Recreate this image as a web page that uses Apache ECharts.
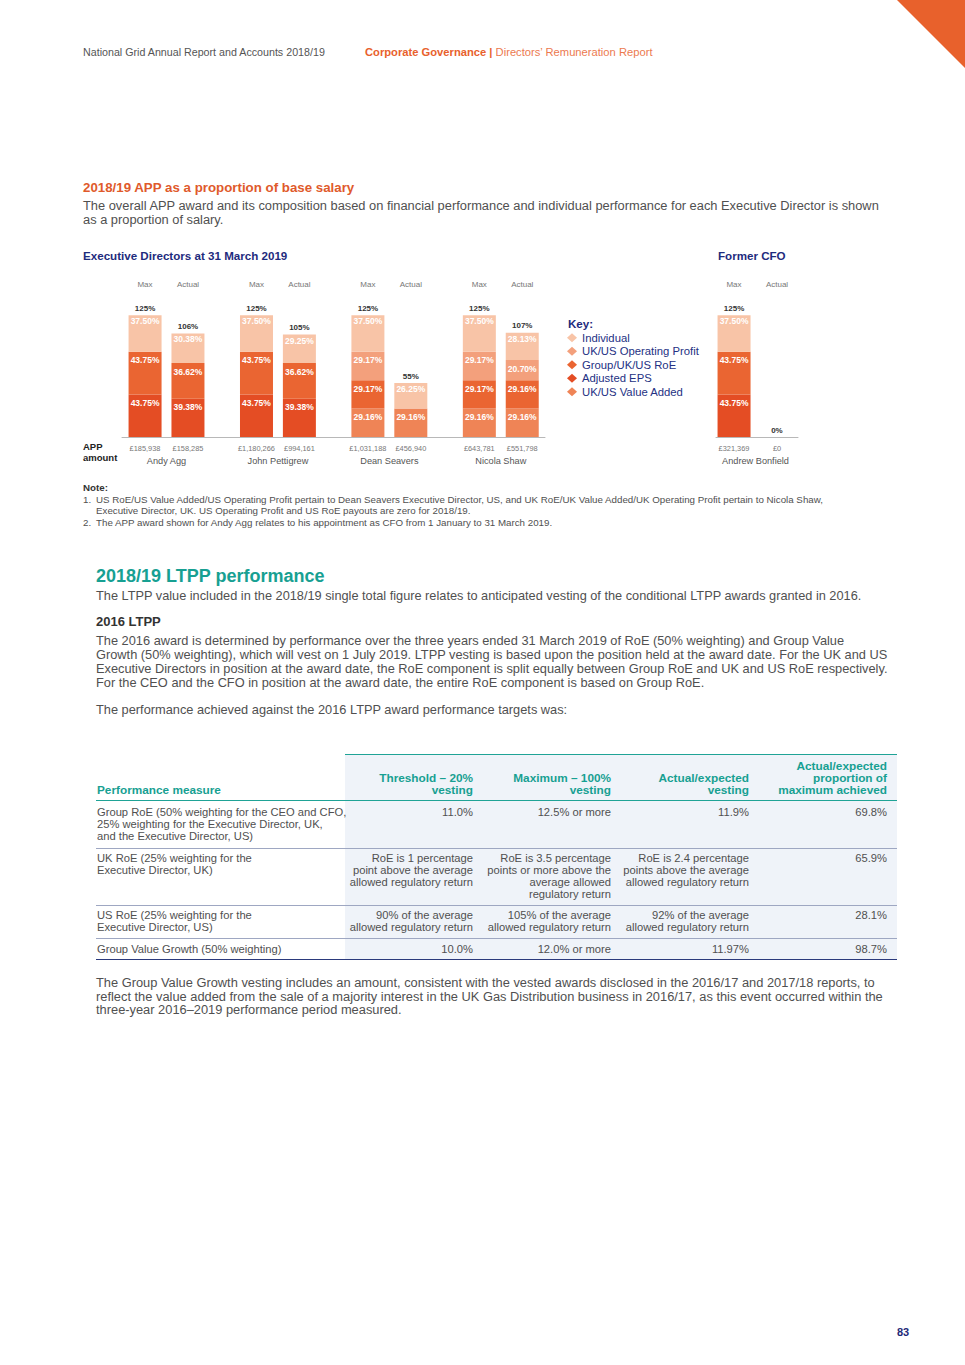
<!DOCTYPE html>
<html>
<head>
<meta charset="utf-8">
<script src="https://cdn.jsdelivr.net/npm/echarts/dist/echarts.min.js"></script>
<style>
  html, body { margin: 0; padding: 0; background: #fff; }
  #page { position: relative; width: 965px; height: 1365px; overflow: hidden; background: #fff; }
  .t { position: absolute; white-space: nowrap; font-family: 'Liberation Sans', Arial, Helvetica, sans-serif; color: #505050; }
  .r { text-align: right; }
  .hl { position: absolute; height: 0; }
  #chart { position: absolute; left: 0; top: 230px; width: 965px; height: 245px; }
</style>
</head>
<body>
<div id="page">
  <svg style="position:absolute;left:0;top:0" width="965" height="80">
    <polygon points="897,0 965,0 965,68" fill="#e8612c"/>
  </svg>

  <div class="t" style="left:83px;top:45px;font-size:10.7px;line-height:14px;color:#555;">National Grid Annual Report and Accounts 2018/19</div>
  <div class="t" style="left:365px;top:45px;font-size:11.2px;line-height:14px;color:#e8612c;"><b>Corporate Governance |</b> <span style="color:#ec7a4f">Directors’ Remuneration Report</span></div>

  <div class="t" style="left:83px;top:179.5px;font-size:13.3px;line-height:15px;font-weight:bold;color:#e05a2b;">2018/19 APP as a proportion of base salary</div>
  <div class="t" style="left:83px;top:199px;font-size:12.85px;line-height:13.5px;">The overall APP award and its composition based on financial performance and individual performance for each Executive Director is shown<br>as a proportion of salary.</div>

  <div id="chart"></div>

  <div class="t" style="left:83px;top:482px;font-size:9.75px;line-height:11.5px;font-weight:bold;color:#333;">Note:</div>
  <div class="t" style="left:83px;top:493.5px;font-size:9.75px;line-height:11.5px;">1.</div>
  <div class="t" style="left:96px;top:493.5px;font-size:9.75px;line-height:11.5px;">US RoE/US Value Added/US Operating Profit pertain to Dean Seavers Executive Director, US, and UK RoE/UK Value Added/UK Operating Profit pertain to Nicola Shaw,<br>Executive Director, UK. US Operating Profit and US RoE payouts are zero for 2018/19.</div>
  <div class="t" style="left:83px;top:516.5px;font-size:9.75px;line-height:11.5px;">2.</div>
  <div class="t" style="left:96px;top:516.5px;font-size:9.75px;line-height:11.5px;">The APP award shown for Andy Agg relates to his appointment as CFO from 1 January to 31 March 2019.</div>

  <div class="t" style="left:96px;top:566px;font-size:18px;line-height:20px;font-weight:bold;color:#17a092;">2018/19 LTPP performance</div>
  <div class="t" style="left:96px;top:589px;font-size:12.75px;line-height:14px;">The LTPP value included in the 2018/19 single total figure relates to anticipated vesting of the conditional LTPP awards granted in 2016.</div>
  <div class="t" style="left:96px;top:615px;font-size:13px;line-height:14px;font-weight:bold;color:#333;">2016 LTPP</div>
  <div class="t" style="left:96px;top:634px;font-size:12.8px;line-height:14px;">The 2016 award is determined by performance over the three years ended 31 March 2019 of RoE (50% weighting) and Group Value<br>Growth (50% weighting), which will vest on 1 July 2019. LTPP vesting is based upon the position held at the award date. For the UK and US<br>Executive Directors in position at the award date, the RoE component is split equally between Group RoE and UK and US RoE respectively.<br>For the CEO and the CFO in position at the award date, the entire RoE component is based on Group RoE.</div>
  <div class="t" style="left:96px;top:703px;font-size:12.8px;line-height:14px;">The performance achieved against the 2016 LTPP award performance targets was:</div>

  <!-- table -->
  <div style="position:absolute;left:345px;top:755px;width:552px;height:204px;background:#eff3f9;"></div>
  <div class="hl" style="left:345px;top:754px;width:552px;border-top:1.5px solid #1fa396;"></div>
  <div class="hl" style="left:96px;top:800px;width:801px;border-top:1px solid #1fa396;"></div>
  <div class="hl" style="left:96px;top:848px;width:801px;border-top:1px solid #9ea7c2;"></div>
  <div class="hl" style="left:96px;top:905px;width:801px;border-top:1px solid #9ea7c2;"></div>
  <div class="hl" style="left:96px;top:938px;width:801px;border-top:1px solid #9ea7c2;"></div>
  <div class="hl" style="left:96px;top:959px;width:801px;border-top:1.5px solid #2b3a7c;"></div>

  <div class="t" style="left:97px;top:784px;font-size:11.8px;line-height:12px;font-weight:bold;color:#17a092;">Performance measure</div>
  <div class="t r" style="right:492px;top:772px;font-size:11.8px;line-height:12px;font-weight:bold;color:#17a092;">Threshold – 20%<br>vesting</div>
  <div class="t r" style="right:354px;top:772px;font-size:11.8px;line-height:12px;font-weight:bold;color:#17a092;">Maximum – 100%<br>vesting</div>
  <div class="t r" style="right:216px;top:772px;font-size:11.8px;line-height:12px;font-weight:bold;color:#17a092;">Actual/expected<br>vesting</div>
  <div class="t r" style="right:78px;top:760px;font-size:11.8px;line-height:12px;font-weight:bold;color:#17a092;">Actual/expected<br>proportion of<br>maximum achieved</div>

  <div class="t" style="left:97px;top:806px;font-size:11.2px;line-height:12px;">Group RoE (50% weighting for the CEO and CFO,<br>25% weighting for the Executive Director, UK,<br>and the Executive Director, US)</div>
  <div class="t r" style="right:492px;top:806px;font-size:11.2px;line-height:12px;">11.0%</div>
  <div class="t r" style="right:354px;top:806px;font-size:11.2px;line-height:12px;">12.5% or more</div>
  <div class="t r" style="right:216px;top:806px;font-size:11.2px;line-height:12px;">11.9%</div>
  <div class="t r" style="right:78px;top:806px;font-size:11.2px;line-height:12px;">69.8%</div>

  <div class="t" style="left:97px;top:852px;font-size:11.2px;line-height:12px;">UK RoE (25% weighting for the<br>Executive Director, UK)</div>
  <div class="t r" style="right:492px;top:852px;font-size:11.2px;line-height:12px;">RoE is 1 percentage<br>point above the average<br>allowed regulatory return</div>
  <div class="t r" style="right:354px;top:852px;font-size:11.2px;line-height:12px;">RoE is 3.5 percentage<br>points or more above the<br>average allowed<br>regulatory return</div>
  <div class="t r" style="right:216px;top:852px;font-size:11.2px;line-height:12px;">RoE is 2.4 percentage<br>points above the average<br>allowed regulatory return</div>
  <div class="t r" style="right:78px;top:852px;font-size:11.2px;line-height:12px;">65.9%</div>

  <div class="t" style="left:97px;top:909px;font-size:11.2px;line-height:12px;">US RoE (25% weighting for the<br>Executive Director, US)</div>
  <div class="t r" style="right:492px;top:909px;font-size:11.2px;line-height:12px;">90% of the average<br>allowed regulatory return</div>
  <div class="t r" style="right:354px;top:909px;font-size:11.2px;line-height:12px;">105% of the average<br>allowed regulatory return</div>
  <div class="t r" style="right:216px;top:909px;font-size:11.2px;line-height:12px;">92% of the average<br>allowed regulatory return</div>
  <div class="t r" style="right:78px;top:909px;font-size:11.2px;line-height:12px;">28.1%</div>

  <div class="t" style="left:97px;top:943px;font-size:11.2px;line-height:12px;">Group Value Growth (50% weighting)</div>
  <div class="t r" style="right:492px;top:943px;font-size:11.2px;line-height:12px;">10.0%</div>
  <div class="t r" style="right:354px;top:943px;font-size:11.2px;line-height:12px;">12.0% or more</div>
  <div class="t r" style="right:216px;top:943px;font-size:11.2px;line-height:12px;">11.97%</div>
  <div class="t r" style="right:78px;top:943px;font-size:11.2px;line-height:12px;">98.7%</div>

  <div class="t" style="left:96px;top:976px;font-size:12.85px;line-height:13.5px;">The Group Value Growth vesting includes an amount, consistent with the vested awards disclosed in the 2016/17 and 2017/18 reports, to<br>reflect the value added from the sale of a majority interest in the UK Gas Distribution business in 2016/17, as this event occurred within the<br>three-year 2016–2019 performance period measured.</div>

  <div class="t" style="left:897px;top:1325px;font-size:11px;line-height:14px;font-weight:bold;color:#1e2a78;">83</div>
</div>

<script>
// ---- data ----
const categories = ['Andy Agg', 'John Pettigrew', 'Dean Seavers', 'Nicola Shaw', 'Andrew Bonfield'];
const maxAdjustedEPS      = [43.75, 43.75, 0, 0, 43.75];
const maxValueAdded       = [0, 0, 29.16, 29.16, 0];
const maxRoE              = [43.75, 43.75, 29.17, 29.17, 43.75];
const maxOperatingProfit  = [0, 0, 29.17, 29.17, 0];
const maxIndividual       = [37.50, 37.50, 37.50, 37.50, 37.50];
const actualAdjustedEPS     = [39.38, 39.38, 0, 0, 0];
const actualValueAdded      = [0, 0, 29.16, 29.16, 0];
const actualRoE             = [36.62, 36.62, 0, 29.16, 0];
const actualOperatingProfit = [0, 0, 0, 20.70, 0];
const actualIndividual      = [30.38, 29.25, 26.25, 28.13, 0];
const maxTotalLabels    = ['125%', '125%', '125%', '125%', '125%'];
const actualTotalLabels = ['106%', '105%', '55%', '107%', '0%'];
const maxAmounts    = ['£185,938', '£1,180,266', '£1,031,188', '£643,781', '£321,369'];
const actualAmounts = ['£158,285', '£994,161', '£456,940', '£551,798', '£0'];
const barHeaders = ['Max', 'Actual'];
const legendItems = ['Individual', 'UK/US Operating Profit', 'Group/UK/US RoE', 'Adjusted EPS', 'UK/US Value Added'];
const totalAnchor = [0, 0, 0, 0, 0];

// ---- styles ----
const F = "'Liberation Sans', Arial, Helvetica, sans-serif";
const colors = {
  'Individual': '#f8c4a7',
  'UK/US Operating Profit': '#f3a07c',
  'Group/UK/US RoE': '#ea6532',
  'Adjusted EPS': '#e44d24',
  'UK/US Value Added': '#ef8456'
};

const chart = echarts.init(document.getElementById('chart'), null, { renderer: 'svg' });

function seg(name, data, stack, gi, range, dist) {
  return {
    type: 'bar', name: name, stack: stack,
    xAxisIndex: gi * 2, yAxisIndex: gi,
    data: data.slice(range[0], range[1]),
    barWidth: 33, barGap: '30%',
    itemStyle: { color: colors[name] },
    silent: true,
    label: {
      show: true, position: 'insideTop', distance: dist,
      color: '#fff', fontWeight: 'bold', fontSize: 8.5, fontFamily: F,
      formatter: p => (p.value ? p.value.toFixed(2) + '%' : '')
    }
  };
}
function totals(labels, stack, gi, range) {
  const lab = labels.slice(range[0], range[1]);
  return {
    type: 'bar', name: 'total', stack: stack,
    xAxisIndex: gi * 2, yAxisIndex: gi,
    data: totalAnchor.slice(range[0], range[1]),
    barWidth: 33, barGap: '30%', silent: true,
    itemStyle: { color: 'rgba(0,0,0,0)' },
    label: {
      show: true, position: 'top', distance: 3,
      color: '#333', fontWeight: 'bold', fontSize: 8, fontFamily: F,
      formatter: p => lab[p.dataIndex]
    }
  };
}
function groupSeries(gi, range) {
  const sm = 'max' + gi, sa = 'act' + gi;
  return [
    seg('Adjusted EPS', maxAdjustedEPS, sm, gi, range, 4),
    seg('UK/US Value Added', maxValueAdded, sm, gi, range, 4),
    seg('Group/UK/US RoE', maxRoE, sm, gi, range, 4),
    seg('UK/US Operating Profit', maxOperatingProfit, sm, gi, range, 4),
    seg('Individual', maxIndividual, sm, gi, range, 1.5),
    totals(maxTotalLabels, sm, gi, range),
    seg('Adjusted EPS', actualAdjustedEPS, sa, gi, range, 4),
    seg('UK/US Value Added', actualValueAdded, sa, gi, range, 4),
    seg('Group/UK/US RoE', actualRoE, sa, gi, range, 4),
    seg('UK/US Operating Profit', actualOperatingProfit, sa, gi, range, 4),
    seg('Individual', actualIndividual, sa, gi, range, 1.5),
    totals(actualTotalLabels, sa, gi, range)
  ];
}

const labelRich = {
  a: { width: 43, align: 'center', fontSize: 7.4, color: '#777', lineHeight: 11, fontFamily: F },
  b: { width: 43, align: 'center', fontSize: 7.4, color: '#777', lineHeight: 11, fontFamily: F },
  n: { fontSize: 9.2, color: '#555', lineHeight: 14, fontFamily: F }
};
const headRich = {
  a: { width: 43, align: 'center', fontSize: 8, color: '#777', lineHeight: 10, fontFamily: F },
  b: { width: 43, align: 'center', fontSize: 8, color: '#777', lineHeight: 10, fontFamily: F }
};
function bottomAxis(gi, range) {
  return {
    type: 'category', gridIndex: gi, position: 'bottom',
    data: categories.slice(range[0], range[1]),
    axisLine: { show: false }, axisTick: { show: false },
    axisLabel: {
      interval: 0, margin: 5.5, rich: labelRich,
      formatter: (v, i) => '{a|' + maxAmounts[range[0] + i] + '}{b|' + actualAmounts[range[0] + i] + '}\n{n|' + v + '}'
    }
  };
}
function topAxis(gi, range) {
  return {
    type: 'category', gridIndex: gi, position: 'top',
    data: categories.slice(range[0], range[1]),
    axisLine: { show: false }, axisTick: { show: false },
    axisLabel: {
      interval: 0, margin: 2, rich: headRich,
      formatter: () => '{a|' + barHeaders[0] + '}{b|' + barHeaders[1] + '}'
    }
  };
}
function lineAxis(gi) {
  return {
    type: 'value', gridIndex: gi, min: 0, max: 1,
    axisLine: { show: true, onZero: false, lineStyle: { color: '#b8b8b8', width: 1 } },
    axisTick: { show: false }, axisLabel: { show: false }, splitLine: { show: false }
  };
}
function hiddenY(gi) {
  return { type: 'value', gridIndex: gi, min: 0, max: 150, show: false, splitLine: { show: false } };
}

const execRange = [0, 4];
const formerRange = [4, 5];

chart.setOption({
  animation: false,
  textStyle: { fontFamily: F },
  title: [
    { text: 'Executive Directors at 31 March 2019', left: 83, top: 19, padding: 0,
      textStyle: { fontSize: 11.6, fontWeight: 'bold', color: '#1e2b7d', fontFamily: F } },
    { text: 'Former CFO', left: 718, top: 19, padding: 0,
      textStyle: { fontSize: 11.6, fontWeight: 'bold', color: '#1e2b7d', fontFamily: F } },
    { text: 'Key:', left: 568, top: 87, padding: 0,
      textStyle: { fontSize: 11.6, fontWeight: 'bold', color: '#1e2b7d', fontFamily: F } },
    { text: 'APP\namount', left: 83, top: 211.5, padding: 0,
      textStyle: { fontSize: 9.5, fontWeight: 'bold', color: '#222', lineHeight: 10.5, fontFamily: F } }
  ],
  legend: {
    data: legendItems, orient: 'vertical', left: 567, top: 101, padding: 0,
    icon: 'diamond', itemWidth: 10, itemHeight: 9, itemGap: 0,
    selectedMode: false,
    textStyle: { fontSize: 11.3, color: '#243183', lineHeight: 13.5, fontFamily: F }
  },
  grid: [
    { left: 110.8, width: 445.7, top: 61, height: 146, containLabel: false },
    { left: 699.8, width: 111.4, top: 61, height: 146, containLabel: false },
    { left: 122, width: 423, top: 61, height: 146, containLabel: false },
    { left: 716, width: 82, top: 61, height: 146, containLabel: false }
  ],
  xAxis: [
    bottomAxis(0, execRange), topAxis(0, execRange),
    bottomAxis(1, formerRange), topAxis(1, formerRange),
    lineAxis(2), lineAxis(3)
  ],
  yAxis: [hiddenY(0), hiddenY(1), hiddenY(2), hiddenY(3)],
  series: groupSeries(0, execRange).concat(groupSeries(1, formerRange))
});
</script>
</body>
</html>
